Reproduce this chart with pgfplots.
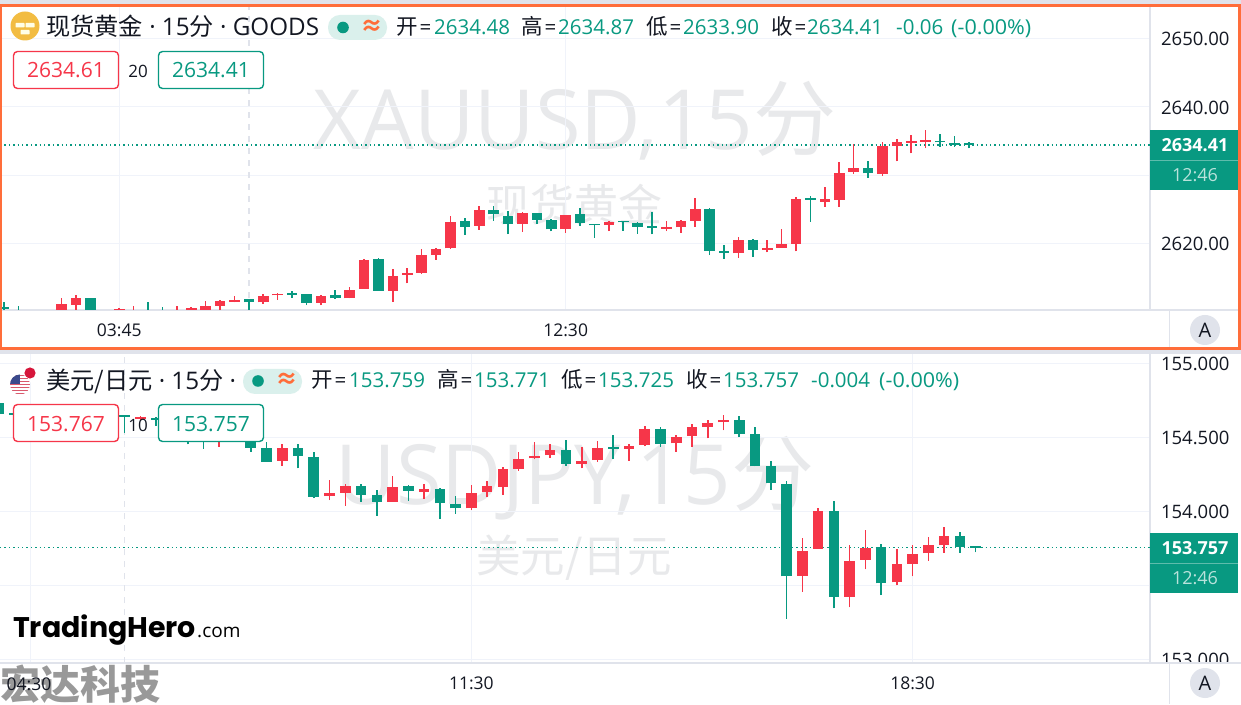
\documentclass[border=0pt]{standalone}
\usepackage{fontspec}
\usepackage{pgfplots}
\usepackage{pgfplotstable}
\pgfplotsset{compat=1.18}
\setmainfont{Open Sans}
\newfontfamily\cjk{Noto Sans CJK SC}
\newfontfamily\logofont{Poppins}

\definecolor{up}{HTML}{F63649}
\definecolor{down}{HTML}{089981}
\definecolor{sep}{HTML}{E0E3EB}
\definecolor{gridc}{HTML}{F0F3FA}
\definecolor{wm}{HTML}{E8E9EB}
\definecolor{ink}{HTML}{131722}
\definecolor{frame}{HTML}{FF6D3A}
\definecolor{pill}{HTML}{DAF0EC}
\definecolor{gold}{HTML}{F2BC42}
\definecolor{flagred}{HTML}{D6153A}
\definecolor{flagstripe}{HTML}{D9596C}
\definecolor{flagblue}{HTML}{3B4A8C}

% XAUUSD 15 min
\pgfplotstableread{
i o h l c
0 2610.59 2611.39 2609.93 2610.37
1 2610.07 2610.81 2609.49 2609.78
2 2609.40 2609.80 2609.20 2609.60
3 2609.60 2609.90 2609.30 2609.40
4 2609.93 2611.98 2609.80 2611.06
5 2611.00 2612.42 2610.22 2611.98
6 2611.98 2612.00 2610.00 2610.07
7 2609.90 2610.00 2609.40 2609.60
8 2609.90 2610.47 2609.60 2610.30
9 2609.50 2610.81 2609.30 2609.90
10 2609.90 2611.39 2609.40 2609.60
11 2609.90 2610.66 2609.50 2609.70
12 2609.60 2610.81 2609.40 2609.90
13 2609.90 2610.66 2609.70 2610.51
14 2610.07 2611.54 2609.90 2610.81
15 2610.81 2611.69 2610.29 2611.54
16 2611.39 2612.23 2611.32 2611.61
17 2611.79 2611.83 2610.29 2611.35
18 2611.35 2612.57 2611.14 2612.27
19 2612.38 2612.71 2611.69 2612.61
20 2612.71 2612.96 2612.02 2612.46
21 2612.57 2612.60 2610.95 2611.29
22 2611.29 2612.38 2610.95 2612.23
23 2612.42 2613.15 2611.88 2611.94
24 2611.94 2613.59 2611.94 2613.20
25 2613.34 2617.65 2613.30 2617.55
26 2617.65 2617.80 2613.01 2613.05
27 2613.01 2616.23 2611.44 2615.25
28 2615.35 2616.33 2614.13 2615.60
29 2615.65 2619.12 2615.50 2618.24
30 2618.33 2619.27 2617.55 2619.16
31 2619.27 2624.05 2619.21 2623.17
32 2623.27 2623.67 2621.22 2622.43
33 2622.54 2625.47 2621.95 2624.88
34 2624.88 2625.47 2623.31 2624.25
35 2624.05 2624.74 2621.36 2622.83
36 2622.83 2624.55 2621.66 2624.40
37 2624.40 2624.45 2622.83 2623.42
38 2623.42 2623.56 2621.76 2622.05
39 2622.05 2624.19 2621.55 2624.15
40 2624.25 2625.18 2622.58 2622.93
41 2622.83 2622.85 2620.82 2622.64
42 2622.68 2623.20 2621.80 2623.17
43 2623.23 2623.31 2621.85 2623.08
44 2623.02 2623.17 2621.41 2622.43
45 2622.54 2624.59 2621.32 2622.29
46 2622.14 2623.31 2621.80 2622.39
47 2622.35 2623.42 2621.55 2623.31
48 2623.31 2626.64 2622.43 2625.03
49 2625.07 2625.18 2618.28 2618.91
50 2618.91 2619.79 2617.70 2618.62
51 2618.53 2620.88 2617.89 2620.48
52 2620.48 2620.67 2617.99 2619.06
53 2619.02 2620.44 2618.65 2619.35
54 2619.35 2622.05 2619.35 2619.85
55 2619.90 2626.75 2618.83 2626.54
56 2626.64 2626.98 2623.17 2626.35
57 2626.10 2628.21 2625.37 2626.50
58 2626.31 2631.88 2625.37 2630.26
59 2630.50 2634.52 2630.21 2631.04
60 2631.00 2632.07 2629.62 2630.26
61 2630.16 2634.81 2629.91 2634.27
62 2634.27 2635.34 2632.02 2634.81
63 2634.71 2635.84 2633.20 2634.96
64 2634.90 2636.57 2633.97 2635.15
65 2635.04 2636.03 2634.16 2634.81
66 2634.66 2635.73 2634.16 2634.37
67 2634.48 2634.87 2633.90 2634.41
}\goldtab

% USDJPY 15 min
\pgfplotstableread{
i o h l c
0 154.732 154.740 154.650 154.660
1 154.664 154.670 154.650 154.654
2 154.650 154.690 154.640 154.660
3 154.660 154.690 154.630 154.680
4 154.680 154.700 154.640 154.650
5 154.650 154.680 154.620 154.640
6 154.640 154.670 154.620 154.660
7 154.660 154.680 154.630 154.650
8 154.649 154.652 154.532 154.640
9 154.625 154.645 154.620 154.635
10 154.630 154.642 154.581 154.620
11 154.620 154.640 154.570 154.580
12 154.560 154.570 154.455 154.520
13 154.520 154.540 154.424 154.500
14 154.500 154.550 154.439 154.530
15 154.530 154.550 154.490 154.510
16 154.500 154.520 154.405 154.432
17 154.428 154.469 154.338 154.338
18 154.343 154.455 154.311 154.428
19 154.432 154.455 154.293 154.376
20 154.372 154.401 154.091 154.101
21 154.106 154.214 154.079 154.126
22 154.128 154.189 154.039 154.172
23 154.172 154.187 154.068 154.113
24 154.113 154.149 153.973 154.068
25 154.068 154.243 154.068 154.169
26 154.176 154.180 154.074 154.140
27 154.135 154.185 154.086 154.153
28 154.153 154.158 153.949 154.057
29 154.054 154.104 153.986 154.023
30 154.023 154.180 154.011 154.126
31 154.131 154.207 154.099 154.172
32 154.169 154.300 154.113 154.286
33 154.289 154.403 154.277 154.356
34 154.361 154.469 154.354 154.378
35 154.383 154.459 154.365 154.415
36 154.417 154.482 154.311 154.322
37 154.324 154.437 154.293 154.345
38 154.349 154.478 154.338 154.428
39 154.432 154.518 154.356 154.424
40 154.426 154.457 154.343 154.446
41 154.451 154.577 154.442 154.559
42 154.557 154.572 154.439 154.459
43 154.462 154.518 154.405 154.505
44 154.512 154.591 154.439 154.570
45 154.572 154.618 154.496 154.601
46 154.604 154.653 154.550 154.618
47 154.618 154.645 154.503 154.523
48 154.523 154.570 154.307 154.307
49 154.309 154.345 154.147 154.192
50 154.187 154.205 153.277 153.563
51 153.566 153.824 153.459 153.736
52 153.748 154.023 153.748 154.003
53 154.005 154.072 153.347 153.424
54 153.426 153.773 153.354 153.669
55 153.674 153.876 153.611 153.757
56 153.764 153.780 153.437 153.516
57 153.523 153.748 153.503 153.649
58 153.649 153.777 153.563 153.714
59 153.719 153.827 153.669 153.773
60 153.773 153.897 153.723 153.838
61 153.838 153.863 153.723 153.764
62 153.759 153.771 153.725 153.757
}\yentab

% table, colour, test, smallest body
\newcommand{\candleset}[4]{%
  \addplot[forget plot, draw=none, no markers,
    x filter/.expression={#3 ? x : nan},
    error bars/.cd, y dir=plus, y explicit, error mark=none,
    error bar style={draw=#2, solid, line width=1.6pt, line cap=butt}]
    table[x=i, y=l, y error expr=\thisrow{h}-\thisrow{l}] {#1};
  \addplot[forget plot, draw=none, no markers,
    x filter/.expression={#3 ? x : nan},
    error bars/.cd, y dir=plus, y explicit, error mark=none,
    error bar style={draw=#2, solid, line width=10.6pt, line cap=butt}]
    table[x=i, y expr={min(\thisrow{o},\thisrow{c})},
      y error expr={max(abs(\thisrow{c}-\thisrow{o}),#4)}] {#1};
}
\newcommand{\candles}[2]{%
  \candleset{#1}{up}{\thisrow{c}>=\thisrow{o}}{#2}
  \candleset{#1}{down}{\thisrow{c}<\thisrow{o}}{#2}
}

\pgfplotsset{panel/.style={
  scale only axis, width=1150pt, anchor=south west,
  axis x line*=bottom, axis y line*=right,
  axis line style={draw=sep, line width=2pt},
  major tick length=0pt, grid=major,
  grid style={draw=gridc, line width=1pt},
  tick label style={font=\fontsize{18.5}{20}\selectfont, text=ink},
  xticklabel style={font=\fontsize{17.5}{20}\selectfont, yshift=-10.5pt},
  yticklabel style={xshift=7.5pt, yshift=-0.7pt},
  extra x tick style={grid=major, major grid style={draw=sep, line width=1.5pt, dash pattern=on 6pt off 6pt}},
  extra x tick labels={},
}}
\tikzset{
  lab/.style={inner sep=0pt, anchor=base west, font=\fontsize{20.5}{24}\selectfont},
  mk/.style={inner sep=0pt, font=\fontsize{#1}{#1}\selectfont, text=wm},
}

\begin{document}
\begin{tikzpicture}
\path[use as bounding box] (0pt,0pt) rectangle (1241pt,704pt);
\fill[white] (0pt,0pt) rectangle (1241pt,704pt);

\begin{scope}[x=1pt, y=-1pt, shift={(0pt,704pt)}]
  \node[mk=83] at (575,121) {XAUUSD,15{\cjk 分}};
  \node[mk=44] at (574,205) {\cjk 现货黄金};
  \node[mk=83] at (575,478) {USDJPY,15{\cjk 分}};
  \node[mk=44.5] at (574,558) {\cjk 美元/日元};
\end{scope}

\begin{axis}[panel, at={(0pt,394pt)}, height=310pt,
  xmin=-0.278, xmax=79.583, ymin=2610.22, ymax=2655.67,
  xtick={8,39}, xticklabels={03:45,12:30}, extra x ticks={17},
  ytick={2620,2630,2640,2650}, yticklabels={2620.00,,2640.00,2650.00},
]
  \addplot[forget plot, down, line width=1.2pt, dash pattern=on 1.4pt off 3pt]
    coordinates {(-0.278,2634.41) (79.583,2634.41)};
  \candles{\goldtab}{0.25}
\end{axis}

\begin{axis}[panel, at={(0pt,41pt)}, height=311pt,
  xmin=0.089, xmax=73.06, ymin=152.9777, ymax=155.079,
  xtick={2,30,58}, xticklabels={,11:30,18:30}, extra x ticks={8},
  ytick={153,153.5,154,154.5,155},
  yticklabels={153.000,153.500,154.000,154.500,155.000},
]
  \addplot[forget plot, down, line width=1.2pt, dash pattern=on 1.4pt off 3pt]
    coordinates {(0.089,153.757) (73.06,153.757)};
  \candles{\yentab}{0.012}
\end{axis}

\begin{scope}[x=1pt, y=-1pt, shift={(0pt,704pt)}]
  % bottom of lower pane: covers the cut tick label
  \fill[white] (1151,664) rectangle (1241,704);
  \draw[sep, line width=1pt] (1169,311) -- (1169,349);
  \draw[sep, line width=1pt] (1169,664) -- (1169,704);
  \draw[sep, line width=2pt] (1150,310) -- (1241,310);
  \draw[sep, line width=2pt] (1150,663) -- (1241,663);
  \fill[sep] (0,350) rectangle (1241,354);
  \fill[sep] (0,0) rectangle (1241,4);
  \fill[sep] (1150,0) rectangle (1152,5);

  % price tags
  \foreach \yy/\pp in {130/2634.41, 533/153.757} {
    \fill[down] (1150,\yy) rectangle (1238,\yy+60);
    \draw[white, opacity=.35, line width=.8pt] (1150,\yy+30) -- (1238,\yy+30);
    \node[inner sep=0pt, text=white, font=\fontsize{18}{20}\selectfont\bfseries] at (1195,\yy+15) {\pp};
    \node[inner sep=0pt, text=white, opacity=.72, font=\fontsize{18}{20}\selectfont] at (1195,\yy+45) {12:46};
  }
  \foreach \yy in {330,683} {
    \fill[sep] (1205,\yy) circle (15);
    \node[inner sep=0pt, text=ink, font=\fontsize{20}{22}\selectfont] at (1205,\yy) {A};
  }

  % upper header
  \fill[gold] (25,26) circle (14.5);
  \foreach \xx/\yy in {20/14,25/21,30/14} {\fill[white!90!yellow, rounded corners=.7] (\xx-4.5,\yy+9) rectangle (\xx+4.5,\yy+13.5);}
  \node[lab, text=ink, font=\fontsize{24.2}{26}\selectfont] at (46,36) {{\cjk 现货黄金} · 15{\cjk 分} · GOODS};
  \fill[pill, rounded corners=12] (328,15) rectangle (387,40);
  \fill[down] (343,27.5) circle (5.8);
  \node[inner sep=0pt, text=frame, font=\fontsize{23}{24}\selectfont\cjk\bfseries] at (372,27) {≈};
  \foreach \xx/\txt in {396/开,521/高,646/低,771/收} {\node[lab, text=ink] at (\xx,35) {{\cjk\fontsize{21.5}{24}\selectfont \txt}\kern2pt=};}
  \foreach \xx/\txt in {434/2634.48,558/2634.87,683/2633.90,807/2634.41,896/-0.06} {\node[lab, text=down] at (\xx,35) {\txt};}
  \node[lab, text=down] at (951,35) {\scalebox{1.05}[1]{(-0.00\%)}};

  \draw[up, fill=white, rounded corners=4, line width=1.4pt] (13.5,51.5) rectangle (118.5,88.5);
  \draw[down, fill=white, rounded corners=4, line width=1.4pt] (158.5,51.5) rectangle (263.5,88.5);
  \node[inner sep=0pt, text=up, font=\fontsize{21}{24}\selectfont] at (66,70) {2634.61};
  \node[inner sep=0pt, text=down, font=\fontsize{21}{24}\selectfont] at (211,70) {2634.41};
  \node[inner sep=0pt, text=ink, font=\fontsize{17}{20}\selectfont] at (138,71) {20};

  % lower header
  \fill[white] (30,373) circle (9.5);
  \fill[flagred] (30,373) circle (5.6);
  \begin{scope}
    \clip (20,384.5) circle (10);
    \fill[white] (10,374) rectangle (30,395);
    \foreach \ss in {375,378,381,384,387,390,393} {\fill[flagstripe] (10,\ss) rectangle (30,\ss+1.5);}
    \fill[flagblue] (10,374) rectangle (20,384);
  \end{scope}
  \node[lab, text=ink, font=\fontsize{24.2}{26}\selectfont] at (46,390) {{\cjk 美元/日元} · 15{\cjk 分} ·};
  \fill[pill, rounded corners=12] (243,369) rectangle (302,394);
  \fill[down] (258,381) circle (5.8);
  \node[inner sep=0pt, text=frame, font=\fontsize{23}{24}\selectfont\cjk\bfseries] at (287,380.5) {≈};
  \foreach \xx/\txt in {311/开,437/高,561/低,686/收} {\node[lab, text=ink] at (\xx,388) {{\cjk\fontsize{21.5}{24}\selectfont \txt}\kern2pt=};}
  \foreach \xx/\txt in {349/153.759,474/153.771,598/153.725,723/153.757,811/-0.004} {\node[lab, text=down] at (\xx,388) {\txt};}
  \node[lab, text=down] at (879,388) {\scalebox{1.05}[1]{(-0.00\%)}};

  \draw[up, fill=white, rounded corners=4, line width=1.4pt] (13.5,404.5) rectangle (118.5,441.5);
  \draw[down, fill=white, rounded corners=4, line width=1.4pt] (158.5,404.5) rectangle (263.5,441.5);
  \node[inner sep=0pt, text=up, font=\fontsize{21}{24}\selectfont] at (66,424) {153.767};
  \node[inner sep=0pt, text=down, font=\fontsize{21}{24}\selectfont] at (211,424) {153.757};
  \node[inner sep=0pt, text=ink, font=\fontsize{17}{20}\selectfont] at (138,425) {10};

  % logos
  \node[inner sep=0pt, anchor=base west, text=black, font=\fontsize{28.4}{34}\selectfont\logofont\bfseries] at (13,637) {TradingHero};
  \node[inner sep=0pt, anchor=base west, text=black, font=\fontsize{19}{20}\selectfont] at (197,637) {.com};
  \node[inner sep=0pt, anchor=base west, text=black!40, font=\fontsize{40}{42}\selectfont\cjk\bfseries] at (0,699) {宏达科技};
  \node[inner sep=0pt, text=ink, font=\fontsize{17.5}{20}\selectfont] at (29,684) {04:30};

  % frame of the active pane
  \draw[frame, line width=3pt] (0.5,5.5) rectangle (1239.5,349);
\end{scope}
\end{tikzpicture}
\end{document}
